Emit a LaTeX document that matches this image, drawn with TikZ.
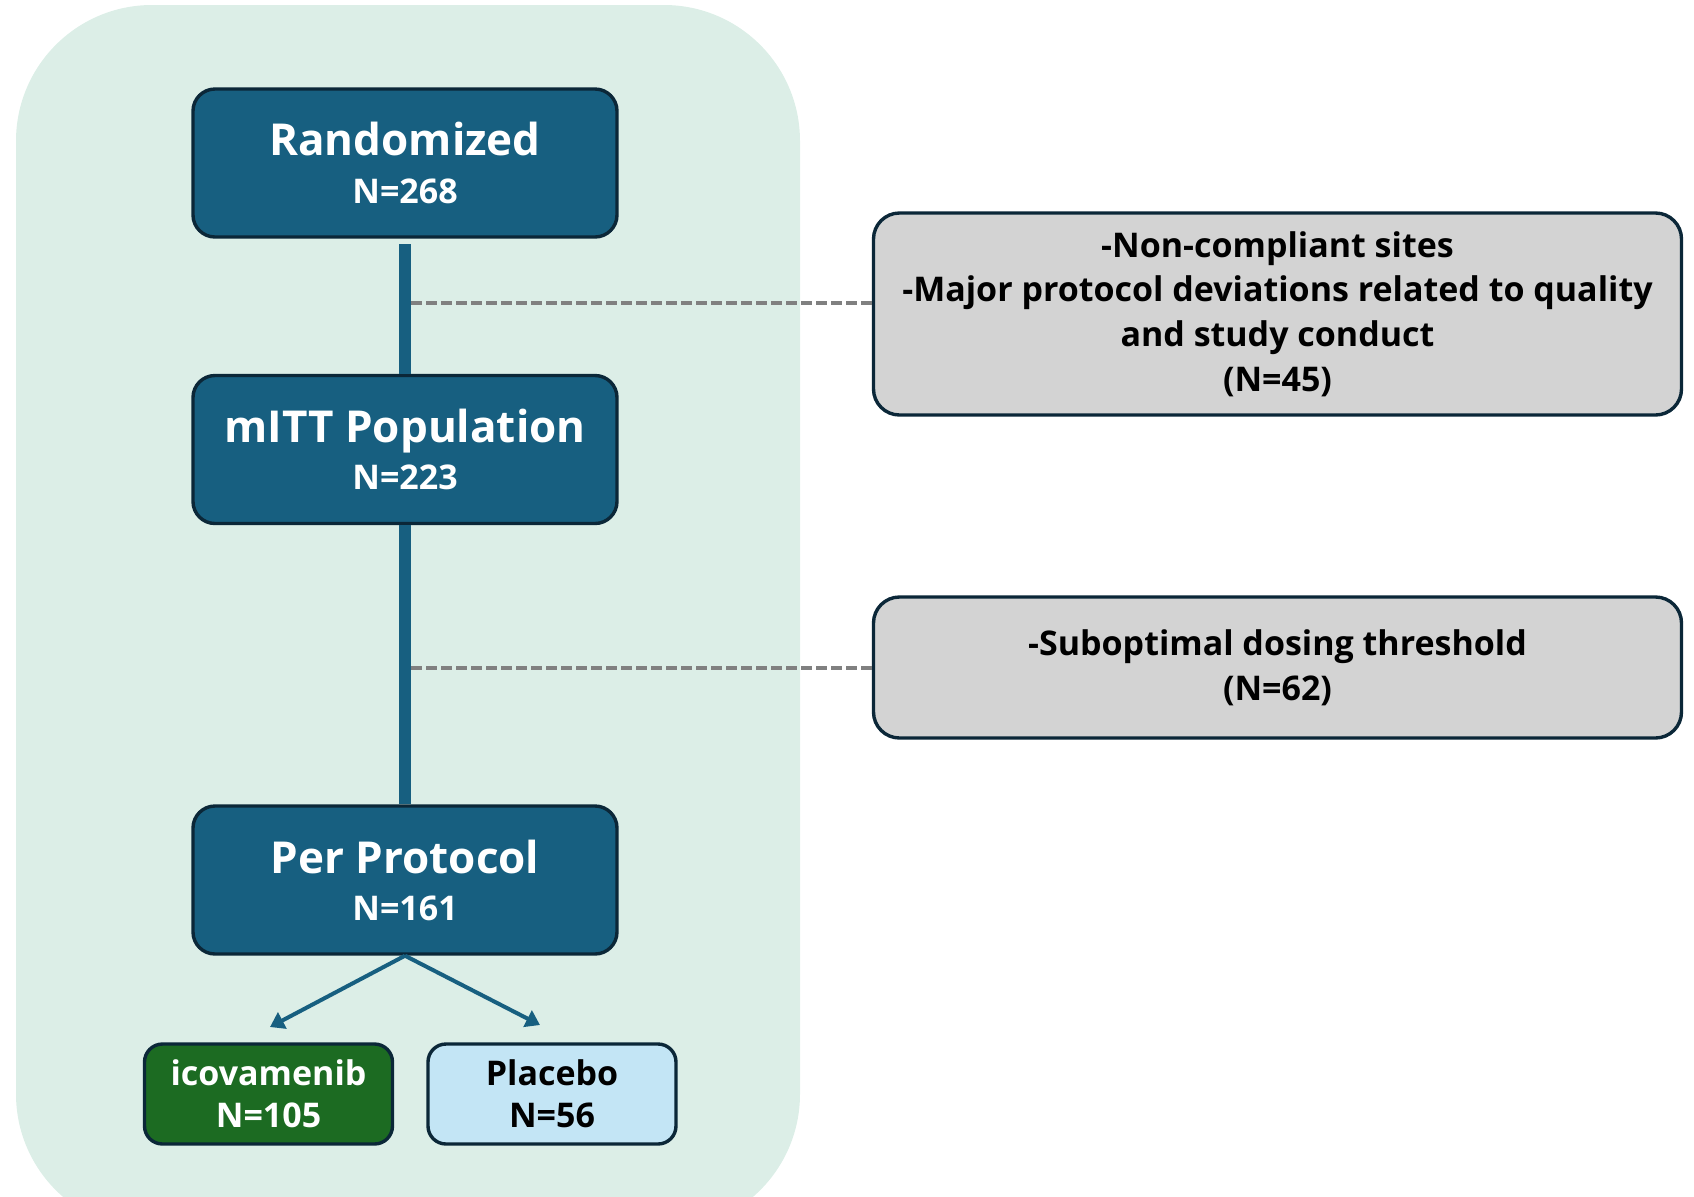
\documentclass[tikz,border=0pt]{standalone}
\usepackage{fontspec}
\setmainfont{Open Sans}
\usetikzlibrary{arrows.meta}
\definecolor{bgc}{HTML}{DCEEE7}
\definecolor{bluec}{HTML}{175F80}
\definecolor{edgec}{HTML}{0B2738}
\definecolor{grayc}{HTML}{D3D3D3}
\definecolor{dashc}{HTML}{808080}
\definecolor{greenc}{HTML}{1C6B22}
\definecolor{lightc}{HTML}{C3E5F5}
\newcommand{\ttlline}[1]{{\fontsize{22}{26}\selectfont\vphantom{Rp}#1}}
\newcommand{\cntline}[1]{{\fontsize{17}{20}\selectfont #1}}
\tikzset{
  mainbox/.style={draw=edgec, line width=1.7pt, fill=bluec, rounded corners=11pt,
    minimum width=212pt, minimum height=74pt, text=white, align=center, inner sep=0pt,
    font=\bfseries},
  armbox/.style={draw=edgec, line width=1.7pt, rounded corners=9pt,
    minimum width=124pt, minimum height=50pt, align=center, inner sep=0pt,
    font=\bfseries\fontsize{17}{21}\selectfont},
  excbox/.style={draw=edgec, line width=1.7pt, fill=grayc, rounded corners=13pt,
    minimum width=404pt, align=center, inner sep=0pt,
    font=\bfseries\fontsize{17}{22.4}\selectfont},
  flow/.style={draw=bluec, line width=6pt},
  split/.style={draw=bluec, line width=2pt, -{Triangle[width=9pt,length=7pt]}},
  exclink/.style={draw=dashc, line width=2pt, dash pattern=on 5.5pt off 2pt},
}
\begin{document}
\begin{tikzpicture}[x=0.5pt,y=-0.5pt]
\useasboundingbox (0,0) rectangle (1694,1196);
\fill[bgc, rounded corners=68pt] (16,5) rectangle (800,1230);
% main boxes
\node[mainbox] (rand) at (405,163) {\ttlline{Randomized}\\[5pt]\cntline{N=268}};
\node[mainbox] (mitt) at (405,449.5) {\ttlline{mITT Population}\\[5pt]\cntline{N=223}};
\node[mainbox] (pp) at (405,880) {\ttlline{Per Protocol}\\[5pt]\cntline{N=161}};
\node[armbox, fill=greenc, text=white] (ico) at (268.5,1094) {icovamenib\\N=105};
\node[armbox, fill=lightc, text=black] (pla) at (552,1094) {Placebo\\N=56};
% exclusion boxes
\node[excbox, minimum height=101pt] (exc1) at (1277.5,314) {-Non-compliant sites\\-Major protocol deviations related to quality\\and study conduct\\(N=45)};
\node[excbox, minimum height=70.5pt] (exc2) at (1277.5,667.5) {-Suboptimal dosing threshold\\(N=62)};
% flow lines
\coordinate (r0) at (405,244);
\draw[flow] (r0) -- (mitt.north);
\draw[flow] (mitt.south) -- (pp.north);
\coordinate (j1) at (411,302.5);
\coordinate (j2) at (411,668);
\draw[exclink] (j1) -- (j1 -| exc1.west);
\draw[exclink] (j2) -- (j2 -| exc2.west);
% split arrows
\coordinate (ea) at (270,1027);
\coordinate (eb) at (540,1025);
\draw[split] (pp.south) -- (ea);
\draw[split] (pp.south) -- (eb);
\end{tikzpicture}
\end{document}
